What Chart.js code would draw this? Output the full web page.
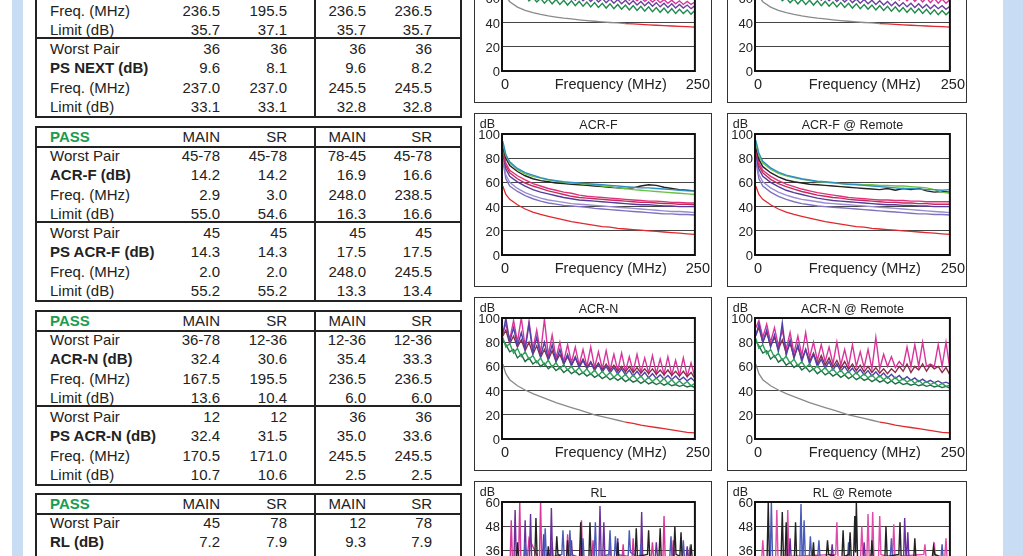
<!DOCTYPE html>
<html>
<head>
<meta charset="utf-8">
<script src="https://cdn.jsdelivr.net/npm/chart.js@4.4.0/dist/chart.umd.min.js"></script>
<style>
  body { margin: 0; background: #fff; }
  #page { position: relative; width: 1023px; height: 556px; overflow: hidden; background: #fff;
          font-family: 'Liberation Sans', Arial, sans-serif; color: #222; }
  .strip { position: absolute; top: 0; height: 556px; background: #c8ddf3; }
  .tbl { position: absolute; left: 35px; width: 427px; height: 176px; border: 2px solid #222; box-sizing: border-box; }
  .hline { position: absolute; left: 35px; width: 427px; height: 1.5px; background: #222; }
  .vline { position: absolute; left: 314px; width: 2px; height: 176px; background: #222; }
  .cell { position: absolute; height: 18px; line-height: 18px; font-size: 15px; white-space: nowrap; }
  .num { width: 100px; text-align: right; }
  .bold { font-weight: bold; }
  .pass { color: #1a9b4f; font-weight: bold; }
  .box { position: absolute; border: 1.5px solid #333; box-sizing: border-box; height: 174px; }
  canvas { position: absolute; }
</style>
</head>
<body>
<div id="page">
  <div class="strip" style="left:12px;width:11px"></div>
  <div class="strip" style="left:1003px;width:20px"></div>
</div>
<script>
// ---------- table text ----------
const headerRow = ['PASS', 'MAIN', 'SR', 'MAIN', 'SR'];

const nextRows = [
  ['Worst Pair', '', '', '', ''],
  ['NEXT (dB)', '', '', '', ''],
  ['Freq. (MHz)', '236.5', '195.5', '236.5', '236.5'],
  ['Limit (dB)', '35.7', '37.1', '35.7', '35.7'],
  ['Worst Pair', '36', '36', '36', '36'],
  ['PS NEXT (dB)', '9.6', '8.1', '9.6', '8.2'],
  ['Freq. (MHz)', '237.0', '237.0', '245.5', '245.5'],
  ['Limit (dB)', '33.1', '33.1', '32.8', '32.8']
];
const acrfRows = [
  ['Worst Pair', '45-78', '45-78', '78-45', '45-78'],
  ['ACR-F (dB)', '14.2', '14.2', '16.9', '16.6'],
  ['Freq. (MHz)', '2.9', '3.0', '248.0', '238.5'],
  ['Limit (dB)', '55.0', '54.6', '16.3', '16.6'],
  ['Worst Pair', '45', '45', '45', '45'],
  ['PS ACR-F (dB)', '14.3', '14.3', '17.5', '17.5'],
  ['Freq. (MHz)', '2.0', '2.0', '248.0', '245.5'],
  ['Limit (dB)', '55.2', '55.2', '13.3', '13.4']
];
const acrnRows = [
  ['Worst Pair', '36-78', '12-36', '12-36', '12-36'],
  ['ACR-N (dB)', '32.4', '30.6', '35.4', '33.3'],
  ['Freq. (MHz)', '167.5', '195.5', '236.5', '236.5'],
  ['Limit (dB)', '13.6', '10.4', '6.0', '6.0'],
  ['Worst Pair', '12', '12', '36', '36'],
  ['PS ACR-N (dB)', '32.4', '31.5', '35.0', '33.6'],
  ['Freq. (MHz)', '170.5', '171.0', '245.5', '245.5'],
  ['Limit (dB)', '10.7', '10.6', '2.5', '2.5']
];
const rlRows = [
  ['Worst Pair', '45', '78', '12', '78'],
  ['RL (dB)', '7.2', '7.9', '9.3', '7.9'],
  ['Freq. (MHz)', '99.0', '200.0', '240.0', '200.0'],
  ['Limit (dB)', '', '', '', '']
];

// ---------- chart data ----------
const xTickVals = [0, 137, 250];
const xTickText = ['0', 'Frequency (MHz)', '250'];

const fSmooth = [1, 5, 10, 20, 30, 40, 50, 60, 70, 80, 90, 100, 110, 120, 130, 140, 150, 160, 170, 180, 190, 200, 210, 220, 230, 240, 250];
const fFine = [1, 5, 10, 15, 20, 25, 30, 35, 40, 45, 50, 55, 60, 65, 70, 75, 80, 85, 90, 95, 100,
  105, 110, 115, 120, 125, 130, 135, 140, 145, 150, 155, 160, 165, 170, 175, 180, 185, 190, 195, 200,
  205, 210, 215, 220, 225, 230, 235, 240, 245, 250];

// PS NEXT (top row, mostly cut off)
const nextLimit = [72, 61.8, 57.3, 52.8, 50.1, 48.3, 46.8, 45.6, 44.6, 43.7, 43, 42.3, 41.7, 41.1, 40.6, 40.1, 39.7, 39.2, 38.9, 38.5, 38.1, 37.8, 37.5, 37.2, 36.9, 36.6, 36.3];
const nextGreen = [92, 80, 74, 68, 66, 61, 63, 58, 61, 57, 60, 56, 59.5, 55.5, 59, 55, 58.5, 54.5, 58, 54,
  57.5, 53.5, 57, 53, 56.5, 52.5, 56, 52, 55.5, 51.5, 55, 51, 54.5, 50.5, 54, 50, 53.5, 49.5, 53, 49,
  52.5, 48.5, 52, 48, 51.5, 47.5, 51, 47.5, 50.5, 47, 50];
const nextPurple = [95, 85, 78, 73, 70, 66, 68, 64, 66, 62, 65, 61, 64, 60.5, 63, 60, 62.5, 59, 62, 58.5,
  61.5, 58, 61, 57.5, 60.5, 57, 60, 56.5, 59.5, 56, 59, 55.5, 58.5, 55, 58, 54.5, 57.5, 54, 57, 53.5,
  56.5, 53, 56, 52.5, 55.5, 52, 55, 52, 54.5, 51.5, 54];
const nextMagenta = [98, 90, 84, 80, 75, 72, 74, 70, 72, 68, 70, 66, 69, 65, 68, 64, 67, 63, 66, 62.5,
  65, 62, 64.5, 61, 64, 60.5, 63, 60, 62.5, 59.5, 62, 59, 61.5, 58.5, 61, 58, 60.5, 57.5, 60, 57,
  59.5, 56.5, 59, 56, 58.5, 55.5, 58, 55, 57.5, 55, 57];
const nextGreenR = [91, 79, 73, 67.5, 65.5, 60.5, 62.5, 58, 60.5, 56.5, 59.5, 55.5, 59, 55, 58.5, 54.5, 58, 54, 57.5, 53.5,
  57, 53, 56.5, 52.5, 56, 52, 55.5, 51.5, 55, 51, 54.5, 50.5, 54, 50, 53.5, 49.5, 53, 49, 52.5, 48.5,
  52, 48, 51.5, 47.5, 51, 47, 50.5, 46.5, 50, 46.5, 49.5];
const nextPurpleR = [94, 84, 77, 72, 69, 65.5, 67.5, 63.5, 65.5, 61.5, 64.5, 60.5, 63.5, 60, 62.5, 59.5, 62, 58.5, 61.5, 58,
  61, 57.5, 60.5, 57, 60, 56.5, 59.5, 56, 59, 55.5, 58.5, 55, 58, 54.5, 57.5, 54, 57, 53.5, 56.5, 53,
  56, 52.5, 55.5, 52, 55, 51.5, 54.5, 51.5, 54, 51, 53.5];
const nextMagentaR = [97, 89, 83, 79, 74, 71, 73, 69, 71.5, 67.5, 70, 66, 69, 65, 68, 64.5, 67.5, 63.5, 67, 63,
  66.5, 62.5, 66, 62, 65.5, 61.5, 65, 61, 64.5, 60.5, 64, 60, 63.5, 59.5, 63, 59, 62.5, 58.5, 62, 58,
  61.5, 57.5, 61, 57, 60.5, 56.5, 60, 56, 59.5, 56, 59];

// ACR-F
const acrfLimit = [57, 50, 46, 41.5, 38, 35.5, 33.5, 32, 30.5, 29, 27.5, 26.5, 25.5, 24.5, 23.5, 23, 22, 21.5, 21, 20.5, 20, 19.5, 19, 18.5, 18, 17.5, 17];
const acrfTeal = [94, 83, 77, 71.5, 68, 66, 64, 62.5, 61.5, 60.5, 60, 59.5, 59, 58.5, 58, 57.5, 57, 56.5, 56, 55.5, 55.5, 55, 54.5, 54, 53.5, 53, 53];
const acrfGreen = [92, 82, 76, 70.5, 67, 65, 63.5, 62, 61, 60, 59.5, 59, 58.5, 58, 57, 56.5, 55.5, 55, 54, 53.5, 53, 52.5, 52, 51.5, 51, 50.5, 50];
const acrfBlack = [90, 80, 74, 69, 65.5, 63, 61.5, 60.5, 59.5, 59, 58.5, 58, 57.5, 57, 56.5, 56, 55.5, 55, 55.5, 57, 58, 57.5, 56, 55, 54, 53.5, 53];
const acrfMagenta = [88, 76, 70, 65.5, 62, 59, 57, 55, 53.5, 52, 51, 49.5, 48.5, 48, 47.5, 47, 46.5, 46, 45.5, 45, 44.5, 44.5, 44, 43.5, 43.5, 43, 43];
const acrfCrimson = [86, 74, 68, 63, 59.5, 57, 55, 53, 51.5, 50, 48.5, 47.5, 47, 46.5, 46, 45.5, 45, 44.5, 44, 43.5, 43.5, 43, 42.5, 42.5, 42, 42, 41.5];
const acrfPurple = [84, 71, 65, 60.5, 57, 54, 52, 50.5, 49, 47.5, 46.5, 45.5, 45, 44.5, 44, 43.5, 43, 42.5, 42, 41.5, 41.5, 41, 40.5, 40.5, 40, 40, 40];
const acrfLav2 = [80, 66, 60, 55, 51.5, 49, 47, 45.5, 44.5, 43.5, 42.5, 42, 41.5, 41, 40.5, 40, 39.5, 39, 38.5, 38, 37.5, 37, 36.5, 36, 36, 35.5, 35];
const acrfLav = [78, 63, 57, 52.5, 49, 46.5, 44.5, 43, 42, 41, 40.5, 40, 39.5, 38.5, 38, 37.5, 37, 36.5, 36, 35.5, 35, 34.5, 34, 34, 33.5, 33.5, 33];
const acrfTealR = [95, 84, 77.5, 72, 68.5, 66, 64.5, 63, 62, 61, 60.5, 60, 59, 58.5, 58, 57.5, 57, 56.5, 56, 55.5, 55, 55, 54.5, 54, 54, 53.5, 54];
const acrfGreenR = [93, 82, 76, 71, 67.5, 65.5, 64, 62.5, 61.5, 60.5, 60, 59.5, 59, 58.5, 58.5, 58, 58, 57.5, 57.5, 57, 57, 56.5, 56, 55.5, 54, 52, 51];
const acrfBlackR = [89, 79, 73, 68, 64.5, 62, 60.5, 59.5, 58.5, 58, 57.5, 57, 56.5, 56, 55.5, 55, 54.5, 54, 55, 53.5, 55, 54, 55, 53, 52, 52.5, 52];
const acrfMagentaR = [88, 76, 70, 65, 61.5, 58.5, 56.5, 54.5, 53, 51.5, 50.5, 49.5, 48.5, 47.5, 47, 46.5, 46, 45.5, 45.5, 45, 45, 44.5, 44.5, 44, 44, 44, 44];
const acrfCrimsonR = [86, 74, 68, 62.5, 59, 56.5, 54.5, 52.5, 51, 49.5, 48.5, 47.5, 47, 46, 45.5, 45, 44.5, 44, 43.5, 43.5, 43, 43, 42.5, 42.5, 42, 42, 42];
const acrfPurpleR = [84, 71, 65, 60, 56.5, 53.5, 51.5, 50, 48.5, 47, 46, 45, 44.5, 44, 43.5, 43, 42.5, 42, 41.5, 41.5, 41, 41, 40.5, 40.5, 40, 40, 40];
const acrfLav2R = [81, 66.5, 60.5, 55.5, 52, 49.5, 47.5, 46, 45, 44, 43, 42.5, 42, 41.5, 41, 40.5, 40, 39.5, 39, 38.5, 38, 37.5, 37, 36.5, 36, 35.5, 35];
const acrfLavR = [78, 63, 57, 52, 48.5, 46, 44, 42.5, 41.5, 40.5, 40, 39.5, 39, 38.5, 38, 37.5, 37, 36.5, 36, 35.5, 35, 34.5, 34, 34, 33.5, 33.5, 33];

// ACR-N
const acrnLimit = [62, 54, 49, 44, 40.5, 37.5, 35, 32.5, 30, 28, 26, 24, 22, 20, 18.5, 17, 15.5, 14, 13, 11.5, 10.5, 9.5, 8.5, 7.5, 6.5, 5.5, 5];
const acrnGreen = [84, 76, 79, 71, 75, 68, 72, 66, 69, 63, 67, 61, 65, 59.5, 63, 58, 61.5, 57, 60, 55.5,
  59, 54.5, 58, 53.5, 57, 52.5, 56, 52, 55, 51, 54, 50.5, 53.5, 49.5, 53, 49, 52, 48, 51, 47.5,
  50.5, 47, 50, 46, 49, 45.5, 48, 45, 47.5, 44, 46];
const acrnDarkGreen = [82, 78, 72, 74, 67, 70, 64, 67, 62, 64.5, 60, 62.5, 58, 60.5, 56.5, 59, 55, 57.5, 54, 56,
  53, 55, 52, 54, 51, 53, 50, 52, 49, 51, 48.5, 50.5, 47.5, 49.5, 47, 48.5, 46, 48, 45.5, 47,
  45, 46.5, 44.5, 46, 44, 45, 43.5, 44.5, 43, 44, 42.5];
const acrnMagenta = [88, 95, 82, 98, 80, 100, 76, 97, 74, 90, 71, 99, 69, 86, 67, 80, 64, 78, 63, 76,
  61, 74, 60, 76, 59, 72, 58, 73, 57, 70, 56.5, 71, 56, 68, 55.5, 70, 55, 67, 54.5, 69,
  54, 66, 53.5, 68, 53, 65, 52.5, 67, 52, 63, 51];
const acrnPurple = [86, 100, 80, 92, 77, 88, 74, 95, 71, 84, 68.5, 80, 66, 78, 64, 74, 62, 70, 60.5, 68,
  59, 65, 58, 63, 56.5, 62, 55.5, 60, 54.5, 59, 53.5, 58, 53, 57, 52, 56, 51.5, 55, 50.5, 54,
  50, 53, 49.5, 52.5, 49, 52, 48.5, 51, 48, 50.5, 47.5];
const acrnBrown = [85, 90, 79, 85, 76, 82, 73, 80, 70, 77, 67.5, 74, 65.5, 73, 64, 70, 62, 68, 61, 67,
  60, 66, 59, 64, 58, 63, 57, 62, 56.5, 61, 56, 60, 55.5, 60, 55, 59, 54.5, 58, 54, 58,
  53.5, 57, 53, 57, 52.5, 56, 52, 56, 51.5, 55, 50];
const acrnGreenR = [83, 75, 78, 70.5, 74, 67.5, 71, 65, 68.5, 62.5, 66, 60.5, 64, 59, 62, 57.5, 60.5, 56, 59, 55,
  58, 54, 57, 53, 56, 52, 55, 51, 54, 50.5, 53, 49.5, 52.5, 49, 51.5, 48, 51, 47.5, 50, 47,
  49, 46, 48.5, 45.5, 47.5, 45, 46.5, 44, 46, 43.5, 44.5];
const acrnDarkGreenR = [81, 77, 71, 73, 66, 69, 63.5, 66, 61, 63.5, 59, 61.5, 57, 59.5, 55.5, 58, 54, 56.5, 53, 55,
  52, 54, 51, 53, 50, 52, 49, 51, 48.5, 50, 47.5, 49.5, 47, 48.5, 46, 48, 45.5, 47, 45, 46,
  44.5, 45.5, 44, 45, 43.5, 44.5, 43, 44, 42.5, 43.5, 42];
const acrnMagentaR = [92, 98, 84, 95, 80, 92, 77, 90, 74, 88, 71, 85, 69, 88, 67, 80, 65, 78, 64, 76,
  62, 80, 61, 74, 60, 78, 60, 72, 59, 74, 58, 84, 58, 70, 60, 68, 59, 64, 60, 76,
  60, 78, 60, 80, 60, 62, 60, 78, 60, 80, 58];
const acrnPurpleR = [85, 95, 80, 90, 76, 86, 72, 96, 69, 82, 66.5, 78, 64, 74, 62, 70, 60, 66, 58.5, 64,
  57, 62, 56, 60, 55, 58.5, 54, 57.5, 53, 56.5, 52, 55.5, 51.5, 54.5, 50.5, 53.5, 50, 52.5, 49, 51.5,
  48.5, 50.5, 47.5, 49.5, 47, 48.5, 46.5, 48, 46, 47, 45.5];
const acrnBrownR = [86, 92, 80, 88, 77, 84, 74, 82, 71, 79, 68, 76, 66, 74, 64, 71, 62, 69, 61, 67,
  59.5, 65, 58.5, 64, 57.5, 62, 56.5, 61, 55.5, 60, 55, 59, 54.5, 58, 54, 58, 55, 60, 56, 62,
  55, 60, 57, 62, 56, 61, 58, 60, 55, 59, 53];

// RL (spike traces, each with its own frequency list)
const rlMagF = [1, 10.5, 12, 13.5, 21.5, 23, 24.5, 33, 35, 48.5, 50, 51.5, 63.5, 65, 66.5, 83.5, 85, 86.5, 101.5, 103, 104.5,
  116.5, 118, 119.5, 138.5, 140, 141.5, 155.5, 157, 158.5, 168.5, 170, 171.5, 193.5, 195, 196.5, 208.5, 210, 211.5,
  220.5, 222, 223.5, 241.5, 243, 244.5, 250];
const rlMagDb = [28, 30, 51, 31, 32, 60, 30, 33, 42, 31, 60, 32, 33, 40, 32, 31, 44, 33, 31, 51, 30,
  32, 41, 31, 33, 38, 32, 31, 39, 30, 32, 42, 31, 33, 40, 32, 31, 53, 32,
  33, 41, 31, 30, 36, 31, 30];
const rlPurF = [1, 15.5, 17, 18.5, 28.5, 30, 31.5, 35.5, 37, 38.5, 52.5, 54, 55.5, 62.5, 64, 65.5, 88.5, 90, 91.5,
  125.5, 127, 128.5, 130.5, 132, 133.5, 148.5, 150, 151.5, 179.5, 181, 182.5, 198.5, 200, 201.5, 238.5, 240, 241.5, 250];
const rlPurDb = [29, 31, 56, 32, 30, 51, 31, 33, 54, 30, 32, 44, 31, 31, 57, 32, 33, 41, 32,
  31, 58, 33, 32, 50, 31, 33, 42, 31, 30, 55, 31, 32, 40, 33, 31, 38, 32, 30];
const rlBlkF = [1, 18.5, 20, 21.5, 42.5, 44, 45.5, 58.5, 60, 61.5, 69.5, 71, 72.5, 83.5, 85, 86.5, 100.5, 102, 103.5,
  112.5, 114, 115.5, 148.5, 150, 151.5, 172.5, 174, 175.5, 188.5, 190, 191.5, 203.5, 205, 206.5,
  222.5, 224, 225.5, 230.5, 232, 233.5, 243.5, 245, 246.5, 250];
const rlBlkDb = [27, 31, 40, 32, 32, 52, 33, 31, 38, 32, 32, 43, 34, 31, 41, 32, 33, 50, 32,
  31, 50, 33, 32, 40, 31, 32, 47, 33, 34, 46, 32, 33, 47, 31,
  32, 48, 34, 33, 45, 32, 31, 39, 32, 30];
const rlBluF = [1, 28.5, 30, 31.5, 54.5, 56, 57.5, 77.5, 79, 80.5, 86.5, 88, 89.5, 103.5, 105, 106.5, 119.5, 121, 122.5,
  138.5, 140, 141.5, 145.5, 147, 148.5, 163.5, 165, 166.5, 178.5, 180, 181.5, 217.5, 219, 220.5, 233.5, 235, 236.5, 250];
const rlBluDb = [26, 32, 40, 31, 33, 47, 32, 34, 46, 33, 32, 46, 34, 32, 42, 31, 33, 50, 32,
  34, 46, 33, 32, 43, 34, 33, 46, 35, 32, 39, 31, 33, 43, 32, 31, 41, 32, 29];
const rlBlkRF = [1, 15.5, 17, 18.5, 33.5, 35, 36.5, 38.5, 40, 41.5, 50.5, 52, 53.5, 73.5, 75, 76.5, 91.5, 93, 94.5,
  111.5, 113, 114.5, 120.5, 122, 123.5, 126.5, 128, 129, 130, 131.5, 148.5, 150, 151.5, 166.5, 168, 169.5,
  184.5, 186, 187.5, 203.5, 205, 206.5, 227.5, 229, 230.5, 250];
const rlBlkRDb = [28, 32, 60, 31, 33, 55, 32, 31, 50, 33, 32, 50, 31, 32, 40, 31, 33, 41, 34,
  32, 46, 33, 34, 45, 32, 33, 53, 35, 60, 32, 31, 41, 32, 31, 48, 33,
  34, 50, 32, 31, 42, 32, 33, 38, 34, 31];
const rlBluRF = [1, 19.5, 21, 22.5, 57.5, 59, 60.5, 61.5, 63, 64.5, 69.5, 71, 72.5, 80.5, 82, 83.5,
  118.5, 120, 121.5, 173.5, 175, 176.5, 238.5, 240, 241.5, 250];
const rlBluRDb = [27, 31, 60, 32, 33, 59, 31, 32, 51, 33, 32, 43, 34, 33, 41, 32,
  31, 40, 32, 33, 42, 31, 32, 39, 31, 30];
const rlPinkRF = [1, 8.5, 10, 11.5, 26.5, 28, 29.5, 40.5, 42, 43.5, 103.5, 105, 106.5, 135.5, 137, 138.5, 143.5, 145, 146.5,
  149.5, 151, 152.5, 158.5, 160, 161.5, 176.5, 178, 179.5, 216.5, 218, 219.5, 228.5, 230, 231.5, 243.5, 245, 246.5, 250];
const rlPinkRDb = [29, 31, 41, 32, 33, 56, 32, 31, 56, 33, 34, 50, 32, 33, 48, 34, 32, 54, 33,
  34, 55, 32, 33, 53, 34, 32, 49, 33, 34, 39, 32, 31, 40, 32, 33, 42, 31, 30];
const rlPurRF = [1, 43.5, 45, 46.5, 97.5, 99, 100.5, 138.5, 140, 141.5, 190.5, 192, 193.5, 194.5, 196, 197.5, 250];
const rlPurRDb = [30, 32, 42, 31, 33, 39, 32, 31, 40, 32, 31, 52, 34, 33, 45, 32, 31];

// ---------- tables ----------
const page = document.getElementById('page');
const colRight = [220, 287, 366, 432];
const rowY = [29, 48.3, 67.6, 86.9, 106, 125.3, 144.6, 163.9];

function addDiv(cls, style, text) {
  const d = document.createElement('div');
  d.className = cls;
  Object.assign(d.style, style);
  if (text !== undefined) d.textContent = text;
  page.appendChild(d);
  return d;
}

function addCells(row, cy, bold, isHeader) {
  addDiv('cell' + (isHeader ? ' pass' : (bold ? ' bold' : '')), { left: '50px', top: (cy - 9) + 'px' }, row[0]);
  for (let c = 1; c < 5; c++) {
    addDiv('cell num', { left: (colRight[c - 1] - 100) + 'px', top: (cy - 9) + 'px' }, row[c]);
  }
}

function drawTable(top, rows) {
  addDiv('tbl', { top: (top - 1) + 'px' });
  addDiv('vline', { top: (top - 1) + 'px' });
  addDiv('hline', { top: (top + 19) + 'px' });
  if (rows.length > 4) addDiv('hline', { top: (top + 94) + 'px' });
  addCells(headerRow, top + 9.5, false, true);
  rows.forEach((r, i) => addCells(r, top + rowY[i], i % 4 === 1, false));
}

drawTable(-57, nextRows);
drawTable(127, acrfRows);
drawTable(311, acrnRows);
drawTable(494, rlRows);

// ---------- charts ----------
Chart.defaults.font.family = "'Liberation Sans', Arial, sans-serif";
Chart.defaults.color = '#222';

const framePlugin = {
  id: 'frame',
  afterDraw(chart) {
    const { ctx, chartArea: a } = chart;
    ctx.save();
    ctx.strokeStyle = '#111';
    ctx.lineWidth = 2;
    ctx.strokeRect(a.left, a.top, a.right - a.left, a.bottom - a.top);
    ctx.fillStyle = '#222';
    ctx.font = "12.5px 'Liberation Sans', Arial, sans-serif";
    ctx.textAlign = 'right';
    ctx.textBaseline = 'middle';
    ctx.fillText('dB', 21, 12);
    ctx.restore();
  }
};

const pts = (fs, vals) => fs.map((f, i) => ({ x: f, y: vals[i] }));
const line = (fs, vals, color) => ({ data: pts(fs, vals), borderColor: color, borderWidth: 1.4 });
const limitLine = (vals, split) => ({
  data: pts(fSmooth, vals), borderWidth: 1.3, borderColor: '#8a8a8a',
  segment: { borderColor: c => c.p0.parsed.x >= split ? '#e0282e' : '#8a8a8a' }
});

function makePanel(left, top, width, title, yMax, yStep, datasets) {
  addDiv('box', { left: left + 'px', top: top + 'px', width: width + 'px', zIndex: 2 });
  const cv = document.createElement('canvas');
  cv.width = width; cv.height = 174;
  cv.style.left = left + 'px'; cv.style.top = top + 'px';
  page.appendChild(cv);
  new Chart(cv.getContext('2d'), {
    type: 'line',
    data: { datasets },
    options: {
      responsive: false,
      animation: false,
      layout: { padding: { left: 0, top: 0, bottom: 0, right: width - 225 + (width > 238 ? -1 : 0) } },
      plugins: {
        legend: { display: false },
        tooltip: { enabled: false },
        title: { display: true, fullSize: false, text: title, color: '#222', font: { size: 12.5, weight: 'normal' }, padding: { top: 5.5, bottom: 0.5 } }
      },
      elements: { point: { radius: 0 }, line: { tension: 0 } },
      scales: {
        x: {
          type: 'linear', min: 0, max: 250,
          grid: { display: false, drawTicks: false },
          border: { display: false },
          afterBuildTicks: axis => { axis.ticks = xTickVals.map(v => ({ value: v })); },
          ticks: { autoSkip: false, maxRotation: 0, padding: 5, labelOffset: 3, color: '#222', font: { size: 14.5 },
                   callback: (v, i) => xTickText[i] },
          afterFit: s => { s.height = 32; }
        },
        y: {
          min: 0, max: yMax,
          grid: { color: '#444', lineWidth: 1, drawTicks: false },
          border: { display: false },
          ticks: { stepSize: yStep, padding: 2, labelOffset: 1.5, color: '#222', font: { size: 13 } },
          afterFit: s => { s.width = 28; }
        }
      }
    },
    plugins: [framePlugin]
  });
}

const col1 = 474, col2 = 727;

makePanel(col1, -71, 238, 'PS NEXT', 100, 20, [
  line(fFine, nextGreen, '#1f8a4c'),
  line(fFine, nextPurple, '#6a3fa0'),
  line(fFine, nextMagenta, '#d8359a'),
  limitLine(nextLimit, 160)
]);
makePanel(col2, -71, 240, 'PS NEXT @ Remote', 100, 20, [
  line(fFine, nextGreenR, '#1f8a4c'),
  line(fFine, nextPurpleR, '#6a3fa0'),
  line(fFine, nextMagentaR, '#d8359a'),
  limitLine(nextLimit, 160)
]);

makePanel(col1, 113, 238, 'ACR-F', 100, 20, [
  line(fSmooth, acrfTeal, '#2f8fc0'),
  line(fSmooth, acrfGreen, '#6cc04a'),
  line(fSmooth, acrfBlack, '#222222'),
  line(fSmooth, acrfMagenta, '#e0307a'),
  line(fSmooth, acrfCrimson, '#c42a5c'),
  line(fSmooth, acrfPurple, '#553c9a'),
  line(fSmooth, acrfLav2, '#9a8ccf'),
  line(fSmooth, acrfLav, '#7f72bf'),
  limitLine(acrfLimit, 0)
]);
makePanel(col2, 113, 240, 'ACR-F @ Remote', 100, 20, [
  line(fSmooth, acrfTealR, '#2f8fc0'),
  line(fSmooth, acrfGreenR, '#6cc04a'),
  line(fSmooth, acrfBlackR, '#222222'),
  line(fSmooth, acrfMagentaR, '#e0307a'),
  line(fSmooth, acrfCrimsonR, '#c42a5c'),
  line(fSmooth, acrfPurpleR, '#553c9a'),
  line(fSmooth, acrfLav2R, '#9a8ccf'),
  line(fSmooth, acrfLavR, '#7f72bf'),
  limitLine(acrfLimit, 0)
]);

makePanel(col1, 297, 238, 'ACR-N', 100, 20, [
  line(fFine, acrnGreen, '#2ea05a'),
  line(fFine, acrnDarkGreen, '#1e6e45'),
  line(fFine, acrnPurple, '#5040a8'),
  line(fFine, acrnBrown, '#8c2d4a'),
  line(fFine, acrnMagenta, '#d8359a'),
  limitLine(acrnLimit, 160)
]);
makePanel(col2, 297, 240, 'ACR-N @ Remote', 100, 20, [
  line(fFine, acrnGreenR, '#2ea05a'),
  line(fFine, acrnDarkGreenR, '#1e6e45'),
  line(fFine, acrnPurpleR, '#5040a8'),
  line(fFine, acrnBrownR, '#8c2d4a'),
  line(fFine, acrnMagentaR, '#d8359a'),
  limitLine(acrnLimit, 160)
]);

makePanel(col1, 481, 238, 'RL', 60, 12, [
  line(rlBlkF, rlBlkDb, '#222222'),
  line(rlBluF, rlBluDb, '#4a5ab8'),
  line(rlPurF, rlPurDb, '#6a2f9a'),
  line(rlMagF, rlMagDb, '#d8359a')
]);
makePanel(col2, 481, 240, 'RL @ Remote', 60, 12, [
  line(rlBlkRF, rlBlkRDb, '#222222'),
  line(rlBluRF, rlBluRDb, '#4a5ab8'),
  line(rlPurRF, rlPurRDb, '#6a2f9a'),
  line(rlPinkRF, rlPinkRDb, '#e04aa8')
]);
</script>
</body>
</html>
